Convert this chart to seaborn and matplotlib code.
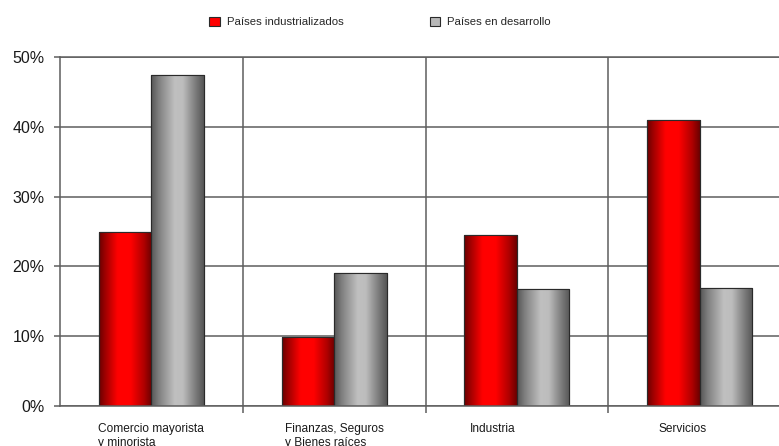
import numpy as np
import pandas as pd
import matplotlib
matplotlib.use("Agg")
import matplotlib.pyplot as plt
import matplotlib.transforms as mtransforms
from matplotlib.colors import LinearSegmentedColormap
from matplotlib.patches import Patch
import seaborn as sns

# ---- data ----
categories = ["Comercio mayorista\ny minorista", "Finanzas, Seguros\ny Bienes raíces",
              "Industria", "Servicios"]
series_names = ["Países industrializados", "Países en desarrollo"]
industrializados = [25.0, 9.9, 24.5, 40.9]
desarrollo = [47.4, 19.0, 16.8, 16.9]
y_ticks = [0, 10, 20, 30, 40, 50]
y_tick_labels = ["0%", "10%", "20%", "30%", "40%", "50%"]

df = pd.DataFrame({
    "cat": categories * 2,
    "grupo": [series_names[0]] * 4 + [series_names[1]] * 4,
    "val": industrializados + desarrollo,
})

sns.set_theme(style="white")
plt.rcParams["font.family"] = ["Liberation Sans", "DejaVu Sans"]

W, H = 779, 446
fig = plt.figure(figsize=(W / 100, H / 100), dpi=100)
ax = fig.add_axes([60 / W, (H - 406.3) / H, 731 / W, (406.3 - 56.7) / H])

red = "#ff0000"
gray = "#b8b8b8"
sns.barplot(data=df, x="cat", y="val", hue="grupo", palette=[red, gray],
            width=0.575, ax=ax, legend=False, edgecolor="#2a2a2a", linewidth=0.8,
            saturation=1, zorder=3)

# gradient fill for bars
red_cmap = LinearSegmentedColormap.from_list(
    "r", [(0, "#6a0000"), (0.12, "#a00000"), (0.35, "#ff0000"), (0.6, "#ff0000"),
          (0.85, "#b00000"), (1, "#6a0000")])
gray_cmap = LinearSegmentedColormap.from_list(
    "g", [(0, "#555555"), (0.15, "#808080"), (0.45, "#c0c0c0"), (0.6, "#bdbdbd"),
          (0.85, "#7a7a7a"), (1, "#555555")])
grad = np.linspace(0, 1, 256).reshape(1, -1)
bars = [p for p in ax.patches]
for i, p in enumerate(bars):
    x0, y0 = p.get_x(), p.get_y()
    w, h = p.get_width(), p.get_height()
    cmap = red_cmap if i < 4 else gray_cmap
    im = ax.imshow(grad, cmap=cmap, aspect="auto", extent=[x0, x0 + w, y0, y0 + h],
                   zorder=3.5, interpolation="bicubic")
    im.set_clip_path(p)
    ax.add_patch(plt.Rectangle((x0, y0), w, h, fill=False, edgecolor="#2a2a2a",
                               linewidth=0.8, zorder=4))

ax.set_xlim(-0.5, 3.5)
ax.set_ylim(0, 50)
ax.set_xlabel("")
ax.set_ylabel("")

gc = "#5e5e5e"
ax.set_yticks(y_ticks)
ax.set_yticklabels(y_tick_labels, fontsize=11.5, color="#1a1a1a")
ax.yaxis.grid(True, color=gc, linewidth=1.1, zorder=0)
ax.tick_params(axis="y", length=4, width=1.1, color=gc, pad=7, left=True)

ax.set_xticks([0.5, 1.5, 2.5], minor=True)
ax.xaxis.grid(True, which="minor", color=gc, linewidth=1.1, zorder=0)
ax.tick_params(axis="x", which="minor", length=5, width=1.1, color=gc, bottom=True)
ax.tick_params(axis="x", which="major", length=0, pad=12)
ax.set_axisbelow(True)

for lab in ax.get_xticklabels():
    lab.set_fontsize(8.6)
    lab.set_color("#1a1a1a")
    lab.set_multialignment("left")
    lab.set_linespacing(1.25)

offsets = [0, 0, -24, -17]
for lab, dx in zip(ax.get_xticklabels(), offsets):
    lab.set_transform(lab.get_transform() +
                      mtransforms.ScaledTranslation(dx / 100, 0, fig.dpi_scale_trans))

for s in ["top", "right"]:
    ax.spines[s].set_visible(False)
for s in ["left", "bottom"]:
    ax.spines[s].set_color(gc)
    ax.spines[s].set_linewidth(1.1)
ax.spines["bottom"].set_zorder(5)

ax.axhline(50, color=gc, linewidth=1.1, clip_on=False, zorder=0)

handles = [Patch(facecolor=red, edgecolor="#2a2a2a", linewidth=0.8),
           Patch(facecolor=gray, edgecolor="#2a2a2a", linewidth=0.8)]
fig.legend(handles, series_names, loc="center", bbox_to_anchor=(380 / W, 1 - 22 / H),
           ncol=2, frameon=False, fontsize=8.2, handlelength=0.9, handleheight=0.9,
           handletextpad=0.6, columnspacing=7.6)

fig.savefig("out.png", dpi=100)
